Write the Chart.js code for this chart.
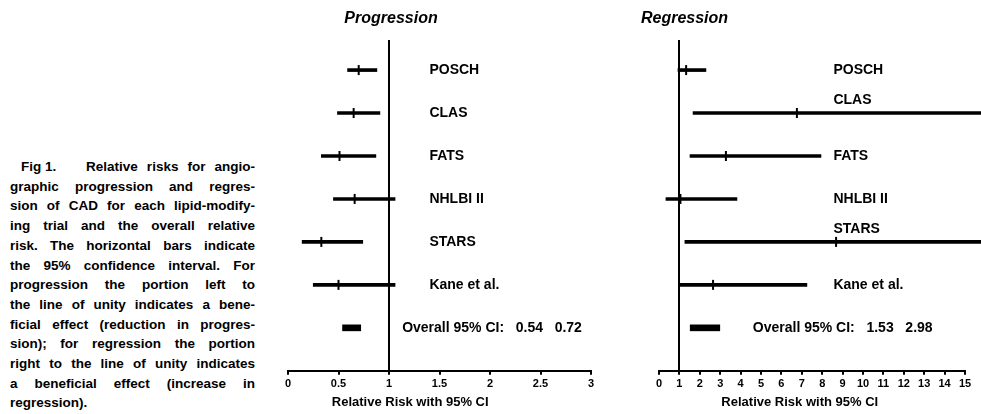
<!DOCTYPE html>
<html>
<head>
<meta charset="utf-8">
<script src="https://cdn.jsdelivr.net/npm/chart.js@4.4.1/dist/chart.umd.min.js"></script>
<style>
  html, body { margin: 0; padding: 0; background: #fff; }
  #wrap { position: relative; width: 981px; height: 414px; overflow: hidden; background: #fff; }
  #wrap canvas { position: absolute; left: 0; top: 0; }
  #caption {
    position: absolute; left: 10px; top: 157px; width: 245px;
    font: bold 13.5px "Liberation Sans", Arial, sans-serif; line-height: 19.7px; color: #000;
  }
  #caption div { text-align: justify; text-align-last: justify; }
  #caption div.first { padding-left: 11px; }
  #caption div.first span { display: inline-block; width: 56px; text-align: left; text-align-last: left; }
  #caption div.last { text-align-last: left; }
</style>
</head>
<body>
<div id="wrap">
  <div id="caption">
    <div class="first"><span>Fig 1.</span> Relative risks for angio-</div>
    <div>graphic progression and regres-</div>
    <div>sion of CAD for each lipid-modify-</div>
    <div>ing trial and the overall relative</div>
    <div>risk. The horizontal bars indicate</div>
    <div>the 95% confidence interval. For</div>
    <div>progression the portion left to</div>
    <div>the line of unity indicates a bene-</div>
    <div>ficial effect (reduction in progres-</div>
    <div>sion); for regression the portion</div>
    <div>right to the line of unity indicates</div>
    <div>a beneficial effect (increase in</div>
    <div class="last">regression).</div>
  </div>
  <canvas id="prog" width="981" height="414"></canvas>
  <canvas id="reg" width="981" height="414"></canvas>
</div>
<script>
// trials, top to bottom
const trials = ['POSCH', 'CLAS', 'FATS', 'NHLBI II', 'STARS', 'Kane et al.'];

// progression: relative risk and 95% CI
const progLow = [0.59, 0.49, 0.33, 0.45, 0.14, 0.25];
const progEst = [0.70, 0.65, 0.51, 0.66, 0.33, 0.50];
const progHigh = [0.88, 0.91, 0.87, 1.06, 0.74, 1.06];
const progOverall = [0.54, 0.72];
const progTicks = [0, 0.5, 1, 1.5, 2, 2.5, 3];

// regression: relative risk and 95% CI (CLAS and STARS run off the axis)
const regLow = [0.93, 1.67, 1.52, 0.34, 1.27, 1.03];
const regEst = [1.33, 6.76, 3.28, 1.05, 8.68, 2.65];
const regHigh = [2.30, 17.0, 7.94, 3.82, 17.0, 7.25];
const regOverall = [1.53, 2.98];
const regTicks = [0, 1, 2, 3, 4, 5, 6, 7, 8, 9, 10, 11, 12, 13, 14, 15];

const FONT = '"Liberation Sans", Arial, sans-serif';

function makePanel(id, p) {
    const ctx = document.getElementById(id).getContext('2d');
    const overallRow = trials.length + 1;

    // titles and row labels
    const panelText = {
        id: 'panelText',
        afterDraw(chart) {
            const c = chart.ctx;
            const x = chart.scales.x, y = chart.scales.y;
            c.save();
            c.fillStyle = '#000';
            c.textBaseline = 'middle';

            c.font = 'italic bold 16px ' + FONT;
            c.textAlign = 'center';
            c.fillText(p.title, x.getPixelForValue(p.titleAt), 19);

            c.font = 'bold 14px ' + FONT;
            c.textAlign = 'left';
            trials.forEach((name, i) => {
                let py = y.getPixelForValue(i + 1);
                // label goes above the bar when the bar runs under it
                if (p.high[i] > p.labelAt) py -= 13;
                c.fillText(name, x.getPixelForValue(p.labelAt), py);
            });
            c.fillText('Overall 95% CI:   ' + p.overall[0].toFixed(2) + '   ' + p.overall[1].toFixed(2),
                x.getPixelForValue(p.overallAt), y.getPixelForValue(overallRow));

            c.font = 'bold 13px ' + FONT;
            c.textAlign = 'center';
            c.fillText('Relative Risk with 95% CI', x.getPixelForValue(p.axisTitleAt), 402);
            c.restore();
        }
    };

    return new Chart(ctx, {
        type: 'bar',
        data: {
            datasets: [
                {
                    indexAxis: 'y',
                    data: trials.map((t, i) => ({ y: i + 1, x: [p.low[i], p.high[i]] })),
                    backgroundColor: '#000',
                    borderWidth: 0,
                    grouped: false,
                    barThickness: 3,
                    maxBarThickness: 3,
                    clip: false,
                },
                {
                    indexAxis: 'y',
                    data: [{ y: overallRow, x: p.overall }],
                    backgroundColor: '#000',
                    borderWidth: 0,
                    grouped: false,
                    barThickness: 6,
                    maxBarThickness: 6,
                    clip: false,
                },
                {
                    type: 'scatter',
                    data: trials.map((t, i) => ({ x: p.est[i], y: i + 1 })),
                    pointStyle: 'line',
                    pointRotation: 90,
                    pointRadius: 5,
                    borderColor: '#000',
                    backgroundColor: '#000',
                    borderWidth: 2,
                    clip: false,
                },
            ],
        },
        options: {
            responsive: false,
            animation: false,
            events: [],
            layout: {
                padding: { left: p.left, right: p.right, top: 40, bottom: 20 }
            },
            plugins: {
                legend: { display: false },
                tooltip: { enabled: false },
            },
            scales: {
                x: {
                    type: 'linear',
                    offset: false,
                    min: p.ticks[0],
                    max: p.ticks[p.ticks.length - 1],
                    afterBuildTicks: (scale) => {
                        scale.ticks = p.ticks.map(v => ({ value: v }));
                    },
                    grid: {
                        offset: false,
                        // only the line of unity is drawn across the plot
                        color: (c) => (c.tick && c.tick.value === 1 ? '#000' : 'rgba(0,0,0,0)'),
                        lineWidth: 2,
                        tickColor: '#000',
                        tickLength: 4,
                    },
                    border: { display: true, color: '#000', width: 2 },
                    ticks: {
                        autoSkip: false,
                        maxRotation: 0,
                        color: '#000',
                        padding: 3,
                        font: { family: FONT, size: 11, weight: 'bold' },
                        callback: (v) => String(v),
                    },
                },
                y: {
                    type: 'linear',
                    display: false,
                    offset: false,
                    reverse: true,
                    min: 0.3,
                    max: 8,
                },
            },
        },
        plugins: [panelText],
    });
}

makePanel('prog', {
    low: progLow, est: progEst, high: progHigh, overall: progOverall, ticks: progTicks,
    title: 'Progression', titleAt: 1.02, labelAt: 1.4, overallAt: 1.13, axisTitleAt: 1.21,
    left: 288, right: 390,
});

makePanel('reg', {
    low: regLow, est: regEst, high: regHigh, overall: regOverall, ticks: regTicks,
    title: 'Regression', titleAt: 1.25, labelAt: 8.55, overallAt: 4.6, axisTitleAt: 6.9,
    left: 659, right: 16,
});
</script>
</body>
</html>
